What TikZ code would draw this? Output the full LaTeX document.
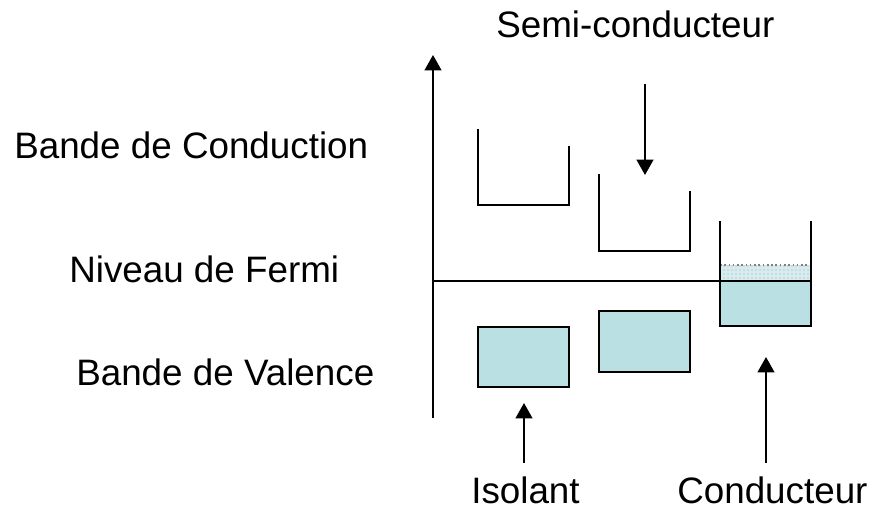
\documentclass[tikz,border=0pt]{standalone}
\usepackage{fontspec}
\setmainfont{Liberation Sans}
\usetikzlibrary{arrows.meta,patterns}
\definecolor{bandblue}{RGB}{186,224,228}
\definecolor{palebl}{RGB}{214,236,238}
\tikzset{
  lbl/.style={anchor=base west,inner sep=0pt,font=\fontsize{27.6}{30}\selectfont},
  wall/.style={line width=1.7pt},
  thinwall/.style={line width=0.8pt},
  band/.style={fill=bandblue,draw=black,line width=1.7pt},
  pointer/.style={line width=1.7pt,-{Triangle[width=12.5pt,length=11.5pt]}},
}
\begin{document}
\begin{tikzpicture}[x=0.75pt,y=-0.75pt]
\useasboundingbox (0,0) rectangle (872,510);
% labels
\node[lbl] (semi) at (496,38) {Semi-conducteur};
\node[lbl] (bc) at (14,158) {Bande de Conduction};
\node[lbl] (nf) at (69,282) {Niveau de Fermi};
\node[lbl] (bv) at (76,385) {Bande de Valence};
\node[lbl] (iso) at (471,503) {Isolant};
\node[lbl] (cond) at (677,503) {Conducteur};
% axis
\coordinate (ax0) at (433,418);
\coordinate (ax1) at (433,55);
\draw[pointer] (ax0) -- (ax1);
% Fermi line
\coordinate (f0) at (433,281);
\coordinate (f1) at (720,281);
\draw[line width=1.2pt] (f0) -- (f1);
% Isolant conduction cup
\draw[thinwall] (478,129) -- (478,146);
\draw[wall] (478,146) -- (478,205) -- (569,205) -- (569,146);
% Semi conduction cup
\draw[thinwall] (599,174) -- (599,191);
\draw[wall] (599,191) -- (599,251) -- (690,251) -- (690,191);
% Conductor: filled part
\fill[palebl] (720,265) rectangle (811,281);
\fill[pattern=dots,pattern color=gray!70] (720,265) rectangle (811,281);
\draw[gray,line width=1.2pt,dotted] (720,265) -- (811,265);
\draw[band] (720,281) rectangle (811,326);
\draw[wall] (720,221) -- (720,326) -- (811,326) -- (811,221);
% valence bands
\node[band,minimum width=91*0.75pt,minimum height=60*0.75pt,inner sep=0pt] (vbi) at (523.5,357) {};
\node[band,minimum width=91*0.75pt,minimum height=61*0.75pt,inner sep=0pt] (vbs) at (644.5,341.5) {};
% pointer arrows
\coordinate (s0) at (645,84);
\coordinate (s1) at (645,175);
\draw[pointer] (s0) -- (s1);
\coordinate (i0) at (524,463);
\coordinate (i1) at (524,403);
\draw[pointer] (i0) -- (i1);
\coordinate (c0) at (766,463);
\coordinate (c1) at (766,357);
\draw[pointer] (c0) -- (c1);
\end{tikzpicture}
\end{document}
